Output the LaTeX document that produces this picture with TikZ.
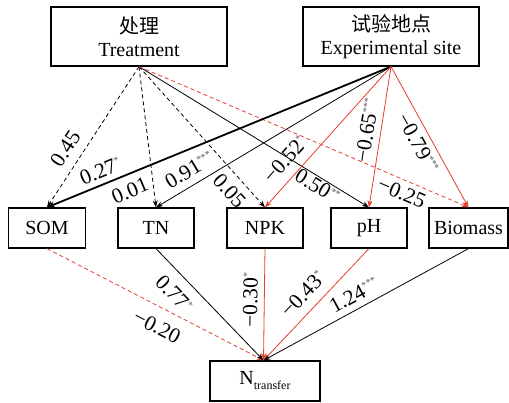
\documentclass[tikz,border=0pt]{standalone}
\usepackage{fontspec}
\setmainfont{Liberation Serif}
\newfontfamily\cjk{Noto Sans CJK SC}
\usetikzlibrary{arrows.meta}
\definecolor{myred}{RGB}{228,62,45}
\definecolor{starc}{RGB}{90,90,90}
\newcommand\stars[1]{\raisebox{7.5pt}{\fontsize{10}{10}\selectfont\color{starc}#1}}
\begin{document}
\begin{tikzpicture}[x=1pt,y=-1pt,
  box/.style={draw,line width=1.2pt,align=center,inner sep=0pt,font=\fontsize{20}{23}\selectfont},
  sbox/.style={draw,line width=1.2pt,inner sep=0pt,minimum height=40pt,font=\fontsize{20}{23}\selectfont},
  lab/.style={text=black,font=\fontsize{21.5}{23}\selectfont,text height=14.5pt,text depth=0pt},
  arr/.style={-{Stealth[length=7pt,width=5pt]},line width=0.8pt},
  blk/.style={arr,black},
  thk/.style={arr,black,line width=1.8pt,-{Stealth[length=8pt,width=6pt]}},
  dashk/.style={arr,black,dash pattern=on 4pt off 3pt},
  rd/.style={arr,myred},
  dashr/.style={arr,myred,dash pattern=on 4pt off 3pt}]
\useasboundingbox (0,0) rectangle (509,403);
% boxes
\node[box,minimum width=176pt,minimum height=59pt] (T) at (139,36.5) {{\cjk 处理}\\Treatment};
\node[box,minimum width=176pt,minimum height=59pt] (E) at (391,36.5) {{\cjk 试验地点}\\Experimental site};
\node[sbox,minimum width=77pt] (SOM) at (47,228) {SOM};
\node[sbox,minimum width=76pt] (TN) at (156,228) {TN};
\node[sbox,minimum width=76pt] (NPK) at (265,228) {NPK};
\node[sbox,minimum width=76pt] (pH) at (369,228) {pH};
\node[sbox,minimum width=79pt] (Bio) at (468.5,228) {Biomass};
\node[sbox,minimum width=110pt] (N) at (265,381) {N\raisebox{-5pt}{\fontsize{12}{12}\selectfont transfer}};
% Treatment edges
\draw[dashk] (T.south) -- (SOM.north) node[lab,pos=.647,sloped,above,inner sep=9.5pt] {0.45};
\draw[dashk] (T.south) -- (TN.north) node[lab,pos=.879,xshift=-24pt,rotate=23] {0.01};
\draw[dashk] (T.south) -- (NPK.north) node[lab,pos=.809,sloped,below,inner sep=7.5pt] {0.05};
\draw[blk] (T.south) -- (pH.north) node[lab,pos=.796,sloped,below,inner sep=1pt] {0.50\stars{**}};
\draw[dashr] (T.south) -- (Bio.north) node[lab,pos=.813,sloped,below,inner sep=5pt] {−0.25};
% Experimental site edges
\draw[thk] (E.south) -- (SOM.north) node[lab,pos=.83,sloped,above,inner sep=5.5pt] {0.27\stars{*}};
\draw[blk] (E.south) -- (TN.north) node[lab,pos=.825,sloped,above,inner sep=7.5pt] {0.91\stars{***}};
\draw[rd] (E.south) -- (NPK.north) node[lab,pos=.74,sloped,above,inner sep=9.5pt] {−0.52\stars{*}};
\draw[rd] (E.south) -- (pH.north) node[lab,pos=.47,sloped,above,inner sep=6.5pt] {−0.65\stars{***}};
\draw[rd] (E.south) -- (Bio.north) node[lab,pos=.498,sloped,below,inner sep=5.5pt] {−0.79\stars{***}};
% to N transfer
\draw[dashr] (SOM.south) -- ([xshift=-1.5pt]N.north) node[lab,pos=.548,sloped,below,inner sep=11pt] {−0.20};
\draw[blk] (TN.south) -- ([xshift=-1.5pt]N.north) node[lab,pos=.29,sloped,below,inner sep=10.5pt] {0.77\stars{*}};
\draw[rd] (NPK.south) -- ([xshift=-1.5pt]N.north) node[lab,pos=.46,sloped,above,inner sep=6.5pt] {−0.30\stars{*}};
\draw[rd] (pH.south) -- ([xshift=-1.5pt]N.north) node[lab,pos=.511,sloped,above,inner sep=9.5pt] {−0.43\stars{*}};
\draw[blk] (Bio.south) -- ([xshift=-1.5pt]N.north) node[lab,pos=.526,sloped,above,inner sep=6.5pt] {1.24\stars{***}};
\end{tikzpicture}
\end{document}
